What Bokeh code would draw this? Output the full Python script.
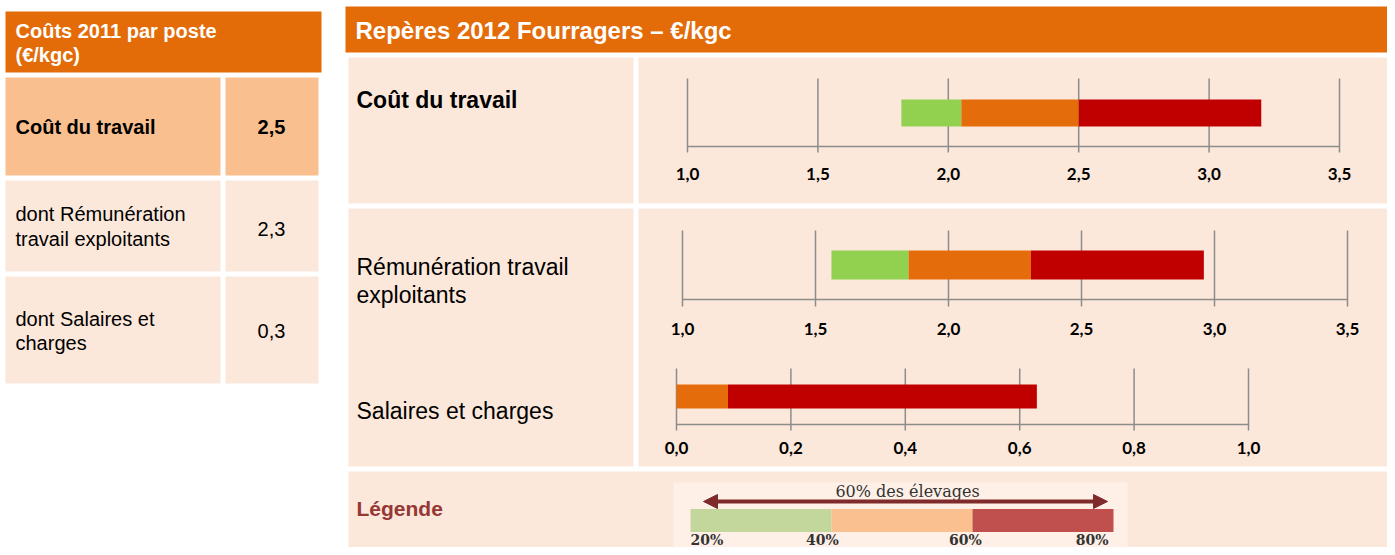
from bokeh.plotting import figure
from bokeh.models import Range1d, Arrow, NormalHead
from bokeh.core.properties import value
from bokeh.embed import file_html
from bokeh.resources import INLINE

# ---------------- data ----------------
table_title = ["Coûts 2011 par poste", "(€/kgc)"]
table_rows = [["Coût du travail"], ["dont Rémunération", "travail exploitants"], ["dont Salaires et", "charges"]]
table_values = ["2,5", "2,3", "0,3"]

chart_title = "Repères 2012 Fourragers – €/kgc"
categories = [["Coût du travail"], ["Rémunération travail", "exploitants"], ["Salaires et charges"]]
q20 = [1.82, 1.56, 0.00]
q40 = [2.05, 1.85, 0.00]
q60 = [2.50, 2.31, 0.09]
q80 = [3.20, 2.96, 0.63]
ticks_a = [1.0, 1.5, 2.0, 2.5, 3.0, 3.5]
tick_labels_a = ["1,0", "1,5", "2,0", "2,5", "3,0", "3,5"]
ticks_b = [0.0, 0.2, 0.4, 0.6, 0.8, 1.0]
tick_labels_b = ["0,0", "0,2", "0,4", "0,6", "0,8", "1,0"]

legend_title = "Légende"
legend_caption = "60% des élevages"
legend_ticks = [20, 40, 60, 80]
legend_labels = ["20%", "40%", "60%", "80%"]

# ---------------- style ----------------
ORANGE_HDR = "#E36C09"
PEACH = "#F9BF8F"
LIGHT = "#FCE8DA"
GREEN = "#92D050"
ORANGE = "#E46C0A"
RED = "#C00000"
GRAY = "#8C8C8C"
SANS = "Liberation Sans"
TICKFONT = "Lato"
SERIF = "DejaVu Serif"

W, H = 1387, 547
X0, Y0 = 0, 0

p = figure(width=W, height=H, x_range=Range1d(X0, X0 + W), y_range=Range1d(Y0 + H, Y0),
           output_backend="svg", toolbar_location=None,
           x_axis_location=None, y_axis_location=None, min_border=0,
           background_fill_color="white", border_fill_color="white", outline_line_color=None)
p.grid.visible = False


def px_range(v0, p0, v1, p1):
    s = (p1 - p0) / (v1 - v0)
    return Range1d(v0 - (p0 - X0) / s, v0 + (X0 + W - p0) / s)


def box(x0, x1, y0, y1, color):
    p.quad(left=[x0], right=[x1], top=[y0], bottom=[y1], fill_color=color, line_color=None)


def txt(x, y, s, size, color="black", bold=False, align="left", font=SANS, xr="default", xoff=0):
    p.text(x=[x], y=[y], text=[s], text_font=value(font), text_font_size=f"{size}px",
           text_font_style="bold" if bold else "normal", text_color=color,
           text_align=align, text_baseline="middle", x_range_name=xr, x_offset=xoff)


# ---------------- left table ----------------
box(5, 321, 11, 72, ORANGE_HDR)
for k, line in enumerate(table_title):
    txt(15, 30 + 24 * k, line, 20, color="white", bold=True)

rows_y = [(77, 175), (180, 271), (276, 383)]
row_text_y = [[126], [213, 238], [318, 342]]
row_val_y = [126, 228, 330]
for i, (ya, yb) in enumerate(rows_y):
    c = PEACH if i == 0 else LIGHT
    box(5, 220, ya, yb, c)
    box(225, 318, ya, yb, c)
    for line, ty in zip(table_rows[i], row_text_y[i]):
        txt(15, ty, line, 20, bold=(i == 0))
    txt(271, row_val_y[i], table_values[i], 20, bold=(i == 0), align="center")

# ---------------- right section ----------------
box(345, 1388, 6, 52, ORANGE_HDR)
txt(355, 30, chart_title, 24, color="white", bold=True)

box(348, 633, 57, 203, LIGHT)
box(638, 1388, 57, 203, LIGHT)
box(348, 633, 208, 466, LIGHT)
box(638, 1388, 208, 466, LIGHT)
box(348, 1388, 471, 560, LIGHT)

label_y = [[99], [266, 294], [410]]
label_bold = [True, False, False]

charts = [
    dict(ticks=ticks_a, labels=tick_labels_a, p0=687, p1=1339, t0=78, t1=152, ay=146, b0=99, b1=126, ly=173),
    dict(ticks=ticks_a, labels=tick_labels_a, p0=682, p1=1347, t0=230, t1=306, ay=299, b0=250, b1=279, ly=328),
    dict(ticks=ticks_b, labels=tick_labels_b, p0=676, p1=1248, t0=368, t1=430, ay=424, b0=384, b1=408, ly=447),
]

for i, c in enumerate(charts):
    name = f"c{i}"
    tk = c["ticks"]
    p.extra_x_ranges[name] = px_range(tk[0], c["p0"], tk[-1], c["p1"])
    for line, ty in zip(categories[i], label_y[i]):
        txt(356, ty, line, 23, bold=label_bold[i])
    n = len(tk)
    p.segment(x0=tk, x1=tk, y0=[c["t0"]] * n, y1=[c["t1"]] * n, line_color=GRAY, line_width=1.5,
              x_range_name=name)
    p.segment(x0=[tk[0]], x1=[tk[-1]], y0=[c["ay"]], y1=[c["ay"]], line_color=GRAY, line_width=1.5,
              x_range_name=name)
    yc = (c["b0"] + c["b1"]) / 2
    h = c["b1"] - c["b0"]
    p.hbar(y=[yc] * 3, height=h, left=[q20[i], q40[i], q60[i]], right=[q40[i], q60[i], q80[i]],
           fill_color=[GREEN, ORANGE, RED], line_color=None, x_range_name=name)
    p.text(x=tk, y=[c["ly"]] * n, text=c["labels"], text_font=value(TICKFONT), text_font_size="17px",
           text_font_style="bold", text_color="black", text_align="center", text_baseline="middle",
           x_range_name=name)

# ---------------- legend ----------------
txt(356, 508, legend_title, 21, color="#953735", bold=True)
box(673, 1127, 482, 560, "#FEF0E6")
p.extra_x_ranges["leg"] = px_range(legend_ticks[0], 690, legend_ticks[-1], 1113)
LEG_COLORS = ["#C3D69B", "#FAC090", "#C0504D"]
p.hbar(y=[520] * 3, height=23, left=legend_ticks[:-1], right=legend_ticks[1:],
       fill_color=LEG_COLORS, line_color=None, x_range_name="leg")
ARROW_C = "#7F2B2B"
p.add_layout(Arrow(x_start=703, y_start=501, x_end=1107, y_end=501, line_color=ARROW_C, line_width=4,
                   start=NormalHead(size=14, fill_color=ARROW_C, line_color=ARROW_C),
                   end=NormalHead(size=14, fill_color=ARROW_C, line_color=ARROW_C)))
txt(907, 491, legend_caption, 16, color="#333333", font=SERIF, align="center")
aligns = ["left", "center", "center", "right"]
offs = [0, -9, -7, -5]
for t, lab, al, of in zip(legend_ticks, legend_labels, aligns, offs):
    txt(t, 539, lab, 14, color="#333333", bold=True, align=al, font=SERIF, xr="leg", xoff=of)

open("out.html", "w").write(file_html(p, INLINE))
